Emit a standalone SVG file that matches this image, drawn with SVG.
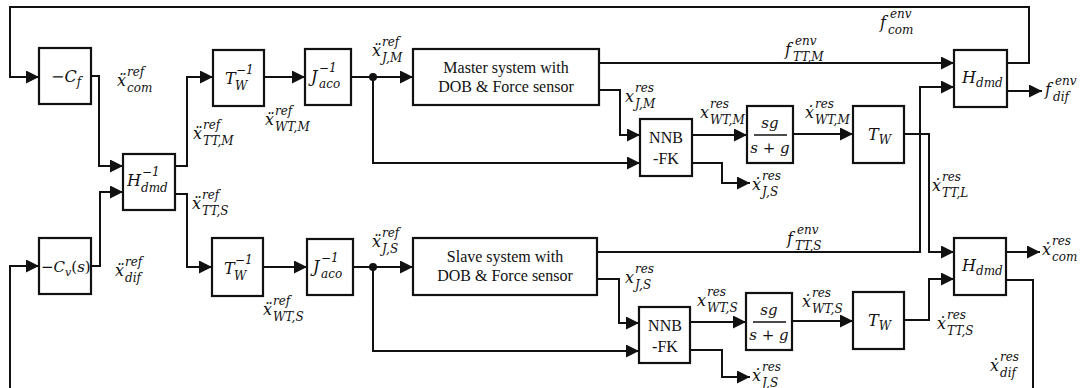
<svg xmlns="http://www.w3.org/2000/svg" width="1082" height="388" viewBox="0 0 1082 388">
<style>
.ln{fill:none;stroke:#111;stroke-width:2}
.bx{fill:#fff;stroke:#111;stroke-width:2.2}
.m{font-family:"DejaVu Serif",serif;font-style:italic;font-size:16px;fill:#111}
.s{font-size:12px}
.up{font-style:normal}
.t{font-family:"Liberation Serif","Times New Roman",serif;font-size:16px;fill:#111;text-anchor:middle}
.dot{fill:#111}
</style>
<defs>
<marker id="ar" markerUnits="userSpaceOnUse" markerWidth="14" markerHeight="14" refX="13" refY="6.5" orient="auto">
<path d="M0,0 L13,6.5 L0,13 z" fill="#111"/>
</marker>
</defs>
<g id="connectors">
<path class="ln" marker-end="url(#ar)" d="M1007,63 H1029 V7 H10 V77 H39"/>
<path class="ln" marker-end="url(#ar)" d="M91,76 H99 V166 H123"/>
<path class="ln" marker-end="url(#ar)" d="M91,266 H100 V192 H123"/>
<path class="ln" marker-end="url(#ar)" d="M175,166 H187 V77 H213"/>
<path class="ln" marker-end="url(#ar)" d="M175,194 H187 V267 H212"/>
<path class="ln" marker-end="url(#ar)" d="M264,77 H305"/>
<path class="ln" marker-end="url(#ar)" d="M351,77 H413"/>
<path class="ln" marker-end="url(#ar)" d="M373,77 V163 H640"/>
<path class="ln" marker-end="url(#ar)" d="M599,63 H954"/>
<path class="ln" marker-end="url(#ar)" d="M599,90 H620 V135 H640"/>
<path class="ln" marker-end="url(#ar)" d="M692,135 H747"/>
<path class="ln" marker-end="url(#ar)" d="M692,163 H722 V183 H750"/>
<path class="ln" marker-end="url(#ar)" d="M793,134 H853"/>
<path class="ln" marker-end="url(#ar)" d="M904,134 H929 V252 H954"/>
<path class="ln" marker-end="url(#ar)" d="M1007,91 H1042"/>
<path class="ln" marker-end="url(#ar)" d="M597,252 H920 V87 H954"/>
<path class="ln" marker-end="url(#ar)" d="M263,267 H307"/>
<path class="ln" marker-end="url(#ar)" d="M353,267 H413"/>
<path class="ln" marker-end="url(#ar)" d="M373,267 V351 H639"/>
<path class="ln" marker-end="url(#ar)" d="M597,279 H619 V323 H639"/>
<path class="ln" marker-end="url(#ar)" d="M690,322 H746"/>
<path class="ln" marker-end="url(#ar)" d="M690,350 H722 V377 H750"/>
<path class="ln" marker-end="url(#ar)" d="M792,321 H853"/>
<path class="ln" marker-end="url(#ar)" d="M904,320 H929 V279 H954"/>
<path class="ln" marker-end="url(#ar)" d="M1006,252 H1040"/>
<path class="ln" d="M1006,280 H1033 V388"/>
<path class="ln" marker-end="url(#ar)" d="M10,388 V266 H39"/>
<circle class="dot" cx="373" cy="77" r="4"/>
<circle class="dot" cx="373" cy="267" r="4"/>
</g>
<g id="nCf"><rect class="bx" x="39" y="48" width="52" height="56"/><text class="m" x="51" y="82">−C<tspan class="s" dy="4">f</tspan></text></g>
<g id="nCv"><rect class="bx" x="39" y="238" width="52" height="56"/><text class="m" x="41" y="272" style="font-size:15px">−C<tspan class="s" style="font-size:11px" dy="4">v</tspan><tspan class="up" dy="-4">(</tspan>s<tspan class="up">)</tspan></text></g>
<g id="nHinv"><rect class="bx" x="123" y="154" width="52" height="56"/><text class="m" x="127" y="186">H<tspan class="s" x="142" y="176">−1</tspan><tspan class="s" x="141" y="192">dmd</tspan></text></g>
<g id="nTinvM"><rect class="bx" x="213" y="50" width="51" height="56"/><text class="m" x="225" y="84">T<tspan class="s" x="236" y="74">−1</tspan><tspan class="s" x="235" y="90">W</tspan></text></g>
<g id="nTinvS"><rect class="bx" x="212" y="238" width="51" height="58"/><text class="m" x="224" y="274">T<tspan class="s" x="235" y="264">−1</tspan><tspan class="s" x="234" y="280">W</tspan></text></g>
<g id="nJM"><rect class="bx" x="305" y="49" width="46" height="56"/><text class="m" x="311" y="82">J<tspan class="s" x="319" y="72">−1</tspan><tspan class="s" x="319" y="88">aco</tspan></text></g>
<g id="nJS"><rect class="bx" x="307" y="239" width="46" height="56"/><text class="m" x="313" y="272">J<tspan class="s" x="321" y="262">−1</tspan><tspan class="s" x="321" y="278">aco</tspan></text></g>
<g id="master"><rect class="bx" x="413" y="49" width="186" height="56"/><text class="t" x="506" y="73">Master system with</text><text class="t" x="506" y="92">DOB &amp; Force sensor</text></g>
<g id="slave"><rect class="bx" x="413" y="238" width="184" height="57"/><text class="t" x="505" y="262">Slave system with</text><text class="t" x="505" y="281">DOB &amp; Force sensor</text></g>
<g id="nnbM"><rect class="bx" x="640" y="119" width="52" height="57"/><text class="t" x="666" y="143">NNB</text><text class="t" x="666" y="164">-FK</text></g>
<g id="nnbS"><rect class="bx" x="639" y="307" width="51" height="56"/><text class="t" x="665" y="331">NNB</text><text class="t" x="665" y="352">-FK</text></g>
<g id="sgM"><rect class="bx" x="747" y="106" width="46" height="57"/><text class="m" x="770" y="128" text-anchor="middle" style="font-size:15px">sg</text><path class="ln" d="M754,135 H787" style="stroke-width:1.5"/><text class="m" x="770" y="153" text-anchor="middle" style="font-size:15px">s <tspan class="up">+</tspan> g</text></g>
<g id="sgS"><rect class="bx" x="746" y="293" width="46" height="57"/><text class="m" x="769" y="315" text-anchor="middle" style="font-size:15px">sg</text><path class="ln" d="M753,322 H786" style="stroke-width:1.5"/><text class="m" x="769" y="340" text-anchor="middle" style="font-size:15px">s <tspan class="up">+</tspan> g</text></g>
<g id="TwM"><rect class="bx" x="853" y="106" width="51" height="57"/><text class="m" x="868" y="140">T<tspan class="s" dy="4">W</tspan></text></g>
<g id="TwS"><rect class="bx" x="853" y="292" width="51" height="57"/><text class="m" x="868" y="326">T<tspan class="s" dy="4">W</tspan></text></g>
<g id="HdM"><rect class="bx" x="954" y="50" width="53" height="57"/><text class="m" x="962" y="83">H<tspan class="s" dy="4">dmd</tspan></text></g>
<g id="HdS"><rect class="bx" x="954" y="238" width="52" height="57"/><text class="m" x="962" y="271">H<tspan class="s" dy="4">dmd</tspan></text></g>
<g id="labels">
<text class="m" x="117" y="86">ẍ<tspan class="s" x="127" y="76">ref</tspan><tspan class="s" x="127" y="92">com</tspan></text>
<text class="m" x="193" y="139">ẍ<tspan class="s" x="203" y="129">ref</tspan><tspan class="s" x="203" y="145">TT,M</tspan></text>
<text class="m" x="192" y="209">ẍ<tspan class="s" x="202" y="199">ref</tspan><tspan class="s" x="202" y="215">TT,S</tspan></text>
<text class="m" x="115" y="276">ẍ<tspan class="s" x="125" y="266">ref</tspan><tspan class="s" x="125" y="282">dif</tspan></text>
<text class="m" x="265" y="125">ẍ<tspan class="s" x="275" y="115">ref</tspan><tspan class="s" x="275" y="131">WT,M</tspan></text>
<text class="m" x="263" y="315">ẍ<tspan class="s" x="273" y="305">ref</tspan><tspan class="s" x="273" y="321">WT,S</tspan></text>
<text class="m" x="372" y="56">ẍ<tspan class="s" x="382" y="46">ref</tspan><tspan class="s" x="382" y="62">J,M</tspan></text>
<text class="m" x="372" y="247">ẍ<tspan class="s" x="382" y="237">ref</tspan><tspan class="s" x="382" y="253">J,S</tspan></text>
<text class="m" x="785" y="55">f<tspan class="s" x="795" y="45">env</tspan><tspan class="s" x="793" y="61">TT,M</tspan></text>
<text class="m" x="880" y="28">f<tspan class="s" x="890" y="18">env</tspan><tspan class="s" x="888" y="34">com</tspan></text>
<text class="m" x="787" y="244">f<tspan class="s" x="797" y="234">env</tspan><tspan class="s" x="795" y="250">TT,S</tspan></text>
<text class="m" x="1045" y="95">f<tspan class="s" x="1055" y="85">env</tspan><tspan class="s" x="1053" y="101">dif</tspan></text>
<text class="m" x="625" y="102">x<tspan class="s" x="635" y="92">res</tspan><tspan class="s" x="635" y="108">J,M</tspan></text>
<text class="m" x="700" y="118">x<tspan class="s" x="710" y="108">res</tspan><tspan class="s" x="710" y="124">WT,M</tspan></text>
<text class="m" x="805" y="118">ẋ<tspan class="s" x="815" y="108">res</tspan><tspan class="s" x="815" y="124">WT,M</tspan></text>
<text class="m" x="752" y="190">ẋ<tspan class="s" x="762" y="180">res</tspan><tspan class="s" x="762" y="196">J,S</tspan></text>
<text class="m" x="932" y="191">ẋ<tspan class="s" x="942" y="181">res</tspan><tspan class="s" x="942" y="197">TT,L</tspan></text>
<text class="m" x="625" y="283">x<tspan class="s" x="635" y="273">res</tspan><tspan class="s" x="635" y="289">J,S</tspan></text>
<text class="m" x="697" y="306">x<tspan class="s" x="707" y="296">res</tspan><tspan class="s" x="707" y="312">WT,S</tspan></text>
<text class="m" x="802" y="307">ẋ<tspan class="s" x="812" y="297">res</tspan><tspan class="s" x="812" y="313">WT,S</tspan></text>
<text class="m" x="752" y="381">ẋ<tspan class="s" x="762" y="371">res</tspan><tspan class="s" x="762" y="387">J,S</tspan></text>
<text class="m" x="937" y="329">ẋ<tspan class="s" x="947" y="319">res</tspan><tspan class="s" x="947" y="335">TT,S</tspan></text>
<text class="m" x="1042" y="255">ẋ<tspan class="s" x="1052" y="245">res</tspan><tspan class="s" x="1052" y="261">com</tspan></text>
<text class="m" x="990" y="371">ẋ<tspan class="s" x="1000" y="361">res</tspan><tspan class="s" x="1000" y="377">dif</tspan></text>
</g>
</svg>
